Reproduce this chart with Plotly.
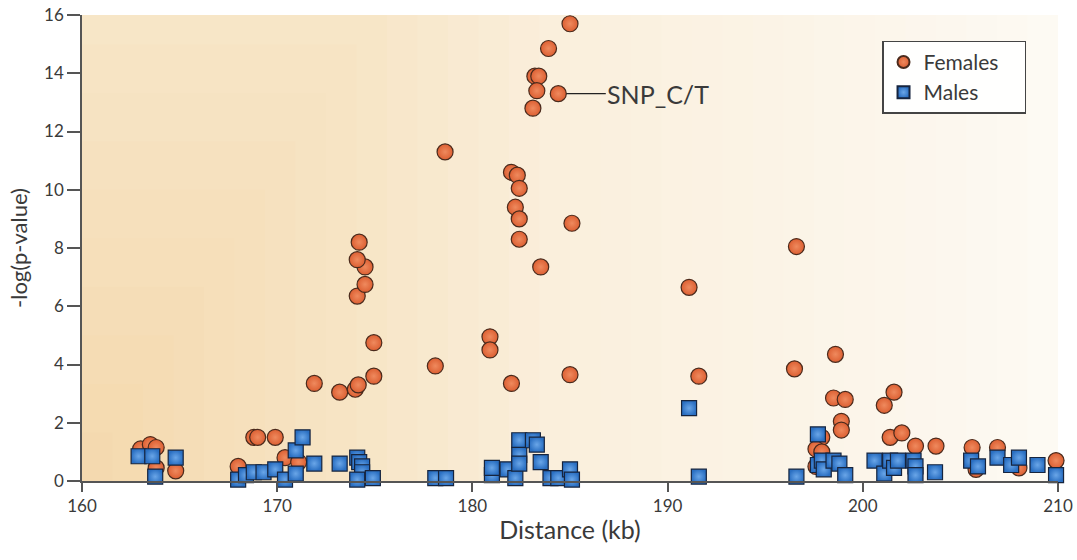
import plotly.graph_objects as go

# ---- data ----
female_x = [163.0, 163.5, 163.8, 163.8, 164.8, 168.0, 168.8, 169.0, 169.9, 170.4,
            171.1, 171.9, 173.2, 174.0, 174.15, 174.1, 174.5, 174.5, 174.1, 174.2,
            174.95, 174.95, 178.1, 178.6, 180.9, 180.9, 182.0, 182.0, 182.3, 182.4,
            182.2, 182.4, 182.4, 183.5, 185.1, 185.0, 185.0, 183.9, 183.2, 183.4,
            183.3, 184.4, 183.1, 191.1, 191.6, 196.6, 196.5, 198.6, 198.5, 199.1,
            198.9, 198.9, 197.9, 197.6, 197.9, 201.6, 201.1, 201.4, 202.0, 202.7,
            203.75, 205.6, 206.9, 208.0, 209.9, 197.6, 205.8]
female_y = [1.1, 1.25, 1.15, 0.45, 0.35, 0.5, 1.5, 1.5, 1.5, 0.8,
            0.65, 3.35, 3.05, 3.15, 3.3, 6.35, 6.75, 7.35, 7.6, 8.2,
            4.75, 3.6, 3.95, 11.3, 4.95, 4.5, 3.35, 10.6, 10.5, 10.05,
            9.4, 9.0, 8.3, 7.35, 8.85, 3.65, 15.7, 14.85, 13.9, 13.9,
            13.4, 13.3, 12.8, 6.65, 3.6, 8.05, 3.85, 4.35, 2.85, 2.8,
            2.05, 1.75, 1.5, 1.1, 1.0, 3.05, 2.6, 1.5, 1.65, 1.2,
            1.2, 1.15, 1.15, 0.45, 0.7, 0.5, 0.4]

male_x = [162.9, 163.6, 164.8, 163.75, 168.0, 168.4, 168.8, 169.3, 169.9, 170.4,
          170.95, 170.95, 171.3, 171.9, 173.2, 174.1, 174.2, 174.35, 174.35, 174.1,
          174.9, 178.1, 178.65, 181.0, 181.0, 181.8, 182.2, 182.4, 182.4, 182.4,
          183.1, 183.3, 183.5, 184.0, 184.4, 185.0, 185.1, 191.1, 191.6, 196.6,
          197.7, 197.7, 197.9, 198.0, 198.5, 198.8, 199.1, 200.6, 201.1, 201.4,
          201.6, 201.8, 202.6, 202.7, 202.7, 203.7, 205.55, 205.9, 206.9, 207.6,
          208.0, 208.95, 209.9]
male_y = [0.85, 0.85, 0.8, 0.15, 0.05, 0.2, 0.3, 0.3, 0.4, 0.05,
          0.25, 1.05, 1.5, 0.6, 0.6, 0.8, 0.65, 0.5, 0.3, 0.05,
          0.1, 0.1, 0.1, 0.2, 0.45, 0.4, 0.1, 1.4, 0.9, 0.6,
          1.4, 1.25, 0.65, 0.1, 0.1, 0.4, 0.05, 2.5, 0.15, 0.15,
          1.6, 0.55, 0.7, 0.4, 0.7, 0.6, 0.2, 0.7, 0.25, 0.7,
          0.45, 0.7, 0.7, 0.5, 0.2, 0.3, 0.7, 0.5, 0.8, 0.55,
          0.8, 0.55, 0.2]

x_ticks = [160, 170, 180, 190, 200, 210]
y_ticks = [0, 2, 4, 6, 8, 10, 12, 14, 16]

series_names = ["Females", "Males"]
snp_label = "SNP_C/T"
snp_x, snp_y = 184.4, 13.3

FONT = "Lato, 'Open Sans', sans-serif"
TXT = "#3a3a3a"
PAD = "\u00a0\u00a0\u00a0\u00a0"

fig = go.Figure()

fig.add_trace(go.Scatter(
    x=female_x, y=female_y, mode="markers", name=series_names[0] + PAD,
    cliponaxis=False,
    marker=dict(symbol="circle", size=16, color="#dc5f32",
                gradient=dict(type="radial", color="#ef8a5e"),
                line=dict(color="#4a2a1c", width=1.2)),
))
fig.add_trace(go.Scatter(
    x=male_x, y=male_y, mode="markers", name=series_names[1],
    cliponaxis=False,
    marker=dict(symbol="square", size=15, color="#2a6fc2",
                gradient=dict(type="radial", color="#6aa6e8"),
                line=dict(color="#16243e", width=1.2)),
))

# soft stepped warm background, darker toward the lower-left corner
stops = [(0.0, (244, 216, 172)), (0.3, (247, 229, 198)), (0.5, (250, 239, 220)),
         (0.9, (252, 247, 238)), (1.0, (253, 250, 243))]


def col_at(t):
    for (t0, c0), (t1, c1) in zip(stops[:-1], stops[1:]):
        if t <= t1:
            f = (t - t0) / (t1 - t0)
            return "rgb(%d,%d,%d)" % tuple(round(a + (b - a) * f) for a, b in zip(c0, c1))
    return "rgb(%d,%d,%d)" % stops[-1][1]


N = 32
shapes = []
for i in range(N, 0, -1):
    t = i / N
    shapes.append(dict(type="rect", xref="x domain", yref="y domain",
                       x0=0, x1=t, y0=0, y1=min(1.0, t / 0.3),
                       fillcolor=col_at(t), line=dict(width=0), layer="below"))

fig.update_layout(
    width=1077, height=560,
    margin=dict(l=82, r=19, t=15, b=79),
    paper_bgcolor="white",
    plot_bgcolor="white",
    shapes=shapes,
    font=dict(family=FONT, color=TXT, size=17),
    showlegend=True,
    legend=dict(x=0.82, y=0.945, xanchor="left", yanchor="top",
                bgcolor="rgba(255,255,255,0.92)", bordercolor="#444",
                borderwidth=1.2, font=dict(size=21, color=TXT),
                itemsizing="constant", tracegroupgap=0),
    annotations=[dict(x=snp_x, y=snp_y, xref="x", yref="y", text=snp_label,
                      showarrow=True, arrowhead=0, arrowwidth=1.2,
                      arrowcolor="#222", ax=100, ay=0, standoff=8,
                      font=dict(size=25, color=TXT))],
)

fig.update_xaxes(
    range=[160, 210], tickvals=x_ticks, showgrid=False, zeroline=False,
    showline=True, linecolor="#555", linewidth=1.5, automargin=False,
    ticks="outside", ticklen=9, tickcolor="#555", tickwidth=1.5,
    title=dict(text="Distance (kb)", font=dict(size=25), standoff=6),
)
fig.update_yaxes(
    range=[0, 16], tickvals=y_ticks, showgrid=False, zeroline=False,
    showline=True, linecolor="#555", linewidth=1.5, automargin=False,
    ticks="outside", ticklen=13, tickcolor="#555", tickwidth=1.5,
    title=dict(text="-log(p-value)", font=dict(size=22), standoff=10),
)

fig.write_html("out.html",
               config={"displayModeBar": False},
               post_script="document.body.style.margin='0px';"
                           "document.body.style.overflow='hidden';")
